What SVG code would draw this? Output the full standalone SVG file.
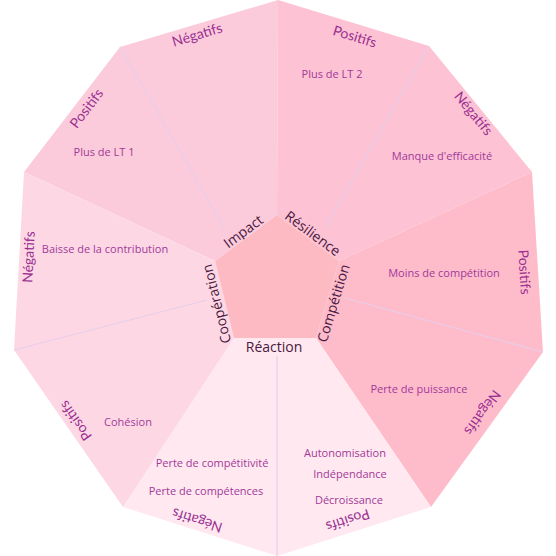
<svg xmlns="http://www.w3.org/2000/svg" width="556" height="556" viewBox="0 0 556 556">
<style>
.cat{font-family:"Open Sans","Noto Sans",sans-serif;font-size:14px;fill:#4a1942;text-anchor:middle;dominant-baseline:central}
.sub{font-family:Lato,"Open Sans",sans-serif;font-size:14px;fill:#9a2f91;text-anchor:middle;dominant-baseline:central}
.item{font-family:"Open Sans","Noto Sans",sans-serif;font-size:11px;fill:#a2399a;text-anchor:middle;dominant-baseline:central}
.div{stroke:#e8cdea;stroke-width:1.2;fill:none}
</style>
<rect width="556" height="556" fill="#ffffff"/>
<g id="impact">
<polygon points="215,261 277,215 278,0 120,47 24,172" fill="#fccbdb"/>
<text class="cat" transform="translate(243,231) rotate(-36.6)">Impact</text>
<text class="sub" transform="translate(197,34) rotate(-16.6)">Négatifs</text>
<text class="sub" transform="translate(86,108) rotate(-52.5)">Positifs</text>
<text class="item" x="104" y="151">Plus de LT 1</text>
</g>
<g id="resilience">
<polygon points="277,215 339,261 532,172 429,46 278,0" fill="#fdc2d3"/>
<text class="cat" transform="translate(313,233) rotate(36.6)">Résilience</text>
<text class="sub" transform="translate(355,36) rotate(17)">Positifs</text>
<text class="sub" transform="translate(474,113) rotate(50.7)">Négatifs</text>
<text class="item" x="332" y="73">Plus de LT 2</text>
<text class="item" x="442" y="155">Manque d'efficacité</text>
</g>
<g id="competition">
<polygon points="339,261 316,338 431,507 543,352 532,172" fill="#febccb"/>
<text class="cat" transform="translate(333,303) rotate(-73)">Compétition</text>
<text class="sub" transform="translate(525,272) rotate(86.5)">Positifs</text>
<text class="sub" transform="translate(483,413) rotate(125.9)">Négatifs</text>
<text class="item" x="444" y="272">Moins de compétition</text>
<text class="item" x="419" y="388">Perte de puissance</text>
</g>
<g id="reaction">
<polygon points="316,338 234,338 123,507 277,556 431,507" fill="#ffe8ef"/>
<text class="cat" x="274" y="346">Réaction</text>
<text class="sub" transform="translate(348,521) rotate(162)">Positifs</text>
<text class="sub" transform="translate(197,521) rotate(197.5)">Négatifs</text>
<text class="item" x="345" y="452">Autonomisation</text>
<text class="item" x="350" y="473">Indépendance</text>
<text class="item" x="349" y="499">Décroissance</text>
<text class="item" x="212" y="462">Perte de compétitivité</text>
<text class="item" x="206" y="490">Perte de compétences</text>
</g>
<g id="cooperation">
<polygon points="234,338 215,261 24,172 14,350 123,507" fill="#fdd8e4"/>
<text class="cat" transform="translate(216,304) rotate(-104)">Coopération</text>
<text class="sub" transform="translate(75,421) rotate(-125)">Positifs</text>
<text class="sub" transform="translate(28,257) rotate(-87)">Négatifs</text>
<text class="item" x="128" y="421">Cohésion</text>
<text class="item" x="105" y="248">Baisse de la contribution</text>
</g>
<g id="center">
<polygon points="277,215 339,261 316,338 234,338 215,261" fill="#fdbac2"/>
</g>
<g id="connectors">
<line class="div" x1="120" y1="47" x2="224" y2="228"/>
<line class="div" x1="429" y1="46" x2="325" y2="228"/>
<line class="div" x1="543" y1="352" x2="345" y2="298"/>
<line class="div" x1="277" y1="556" x2="277" y2="356"/>
<line class="div" x1="14" y1="350" x2="207" y2="300"/>
</g>
</svg>
